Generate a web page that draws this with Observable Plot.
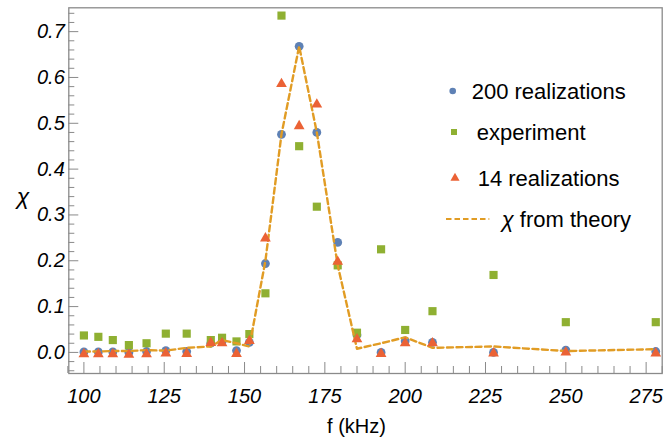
<!DOCTYPE html>
<html><head><meta charset="utf-8">
<script src="https://cdn.jsdelivr.net/npm/d3@7"></script>
<script src="https://cdn.jsdelivr.net/npm/@observablehq/plot@0.6"></script>
<style>
body{margin:0;background:#fff;}
#chart{position:relative;width:665px;height:439px;}
svg{font-family:"Liberation Sans",Arial,sans-serif;}
</style>
</head><body><div id="chart"></div>
<script>
// ---- data ----
const freq       = [100, 104.5, 109, 114, 119.5, 125.5, 132, 139.5, 143, 147.5, 151.5, 156.5, 161.5, 167, 172.5, 179, 185, 192.5, 200, 208.5, 227.5, 250, 278];
const real200    = [0.001, 0.001, 0.001, 0.000, 0.002, 0.004, 0.002, 0.020, 0.024, 0.004, 0.022, 0.194, 0.476, 0.668, 0.480, 0.240, 0.038, 0.000, 0.025, 0.022, 0.000, 0.005, 0.002];
const experiment = [0.037, 0.034, 0.027, 0.016, 0.020, 0.041, 0.041, 0.027, 0.032, 0.024, 0.040, 0.129, 0.735, 0.450, 0.318, 0.190, 0.043, 0.225, 0.049, 0.090, 0.169, 0.066, 0.066];
const real14     = [-0.004, -0.004, -0.004, -0.005, -0.004, -0.002, -0.003, 0.021, 0.020, -0.003, 0.025, 0.249, 0.586, 0.494, 0.541, 0.198, 0.029, -0.003, 0.020, 0.020, -0.002, 0.000, -0.002];
const theory     = [0.002, 0.002, 0.003, 0.003, 0.005, 0.004, 0.010, 0.013, 0.027, 0.020, 0.013, 0.200, 0.476, 0.668, 0.480, 0.190, 0.008, 0.020, 0.033, 0.010, 0.013, 0.003, 0.007];
const yMajor = [0.0, 0.1, 0.2, 0.3, 0.4, 0.5, 0.6, 0.7];
const xMajor = [100, 125, 150, 175, 200, 225, 250, 275];
const legendLabels = ["200 realizations", "experiment", "14 realizations", "from theory"];
const xLabel = "f (kHz)";
const yLabel = "χ";

// ---- layout ----
const W = 665, H = 439, mL = 68.3, mR = 3.3, mT = 7.3, mB = 66;
const innerW = W - mL - mR, innerH = H - mT - mB;
const C = {blue: "#5E81B5", green: "#8FB032", red: "#EB6235", orange: "#E19C24", frame: "#8a8a8a"};

const rows = freq.map((f, i) => ({f, a: real200[i], e: experiment[i], b: real14[i], t: theory[i]}));
const yMinor = d3.range(-2, 38).filter(k => k % 5 !== 0).map(k => k * 0.02);
const xMinor = d3.range(95, 281, 5).filter(v => v % 25 !== 0);

function legendMark(index, scales, values, dim) {
  const g = d3.create("svg:g").attr("font-family", '"Liberation Sans",Arial,sans-serif')
    .attr("font-size", 22).attr("fill", "black").attr("text-anchor", "start");
  const items = [
    {type: "circle", y: 91, mx: 452.7, tx: 471.7, size: Math.PI * 3.3 * 3.3, color: C.blue},
    {type: "square", y: 132, mx: 454, tx: 476.7, size: 36, color: C.green},
    {type: "triangle", y: 178, mx: 455, tx: 477.7, size: 36, color: C.red},
    {type: "line", y: 219, mx: 446, tx: 501.7, color: C.orange}
  ];
  items.forEach((it, i) => {
    if (it.type === "line") {
      g.append("line").attr("x1", it.mx).attr("x2", 489.3).attr("y1", it.y).attr("y2", it.y)
        .attr("stroke", it.color).attr("stroke-width", 2).attr("stroke-dasharray", "5.5,3");
      const t = g.append("text").attr("x", it.tx).attr("y", it.y).attr("dy", "0.35em").attr("text-anchor", "start");
      t.append("tspan").attr("font-style", "italic").text(yLabel);
      t.append("tspan").text(" " + legendLabels[i]);
    } else {
      const sym = it.type === "circle" ? d3.symbolCircle : it.type === "square" ? d3.symbolSquare : d3.symbolTriangle;
      g.append("path").attr("d", d3.symbol(sym, it.size)()).attr("transform", `translate(${it.mx},${it.y})`).attr("fill", it.color);
      g.append("text").attr("x", it.tx).attr("y", it.y).attr("dy", "0.35em").attr("text-anchor", "start").text(legendLabels[i]);
    }
  });
  return g.node();
}

const plot = Plot.plot({
  width: W, height: H,
  marginLeft: mL, marginRight: mR, marginTop: mT, marginBottom: mB,
  style: {background: "white", color: "black", fontFamily: '"Liberation Sans",Arial,sans-serif'},
  x: {domain: [95.3, 280]},
  y: {domain: [-0.046, 0.752]},
  marks: [
    Plot.frame({stroke: C.frame, strokeWidth: 1.3}),
    Plot.tickY(yMajor, {y: d => d, stroke: C.frame, insetRight: innerW - 10}),
    Plot.tickY(yMinor, {y: d => d, stroke: C.frame, insetRight: innerW - 6}),
    Plot.tickX(xMajor, {x: d => d, stroke: C.frame, insetTop: innerH - 11}),
    Plot.tickX(xMinor, {x: d => d, stroke: C.frame, insetTop: innerH - 7}),
    Plot.axisY(yMajor, {tickSize: 0, tickPadding: 4, tickFormat: d3.format(".1f"), fontStyle: "italic", fontSize: 20, label: null}),
    Plot.axisX(xMajor, {tickSize: 0, tickPadding: 15, fontStyle: "italic", fontSize: 20, label: null}),
    Plot.text([yLabel], {text: d => d, frameAnchor: "left", dx: -52, dy: 6, fontSize: 23, fontStyle: "italic"}),
    Plot.text([xLabel], {text: d => d, frameAnchor: "bottom", dx: -9, dy: 59, fontSize: 20}),
    Plot.dot(rows, {x: "f", y: "a", r: 4.4, fill: C.blue, symbol: "circle"}),
    Plot.dot(rows, {x: "f", y: "e", r: 4.6, fill: C.green, symbol: "square"}),
    Plot.line(rows, {x: "f", y: "t", stroke: C.orange, strokeWidth: 2.4, strokeDasharray: "6,3.5"}),
    Plot.dot(rows, {x: "f", y: "b", r: 4, fill: C.red, symbol: "triangle"}),
    legendMark
  ]
});
document.getElementById("chart").appendChild(plot);
</script>
</body></html>
